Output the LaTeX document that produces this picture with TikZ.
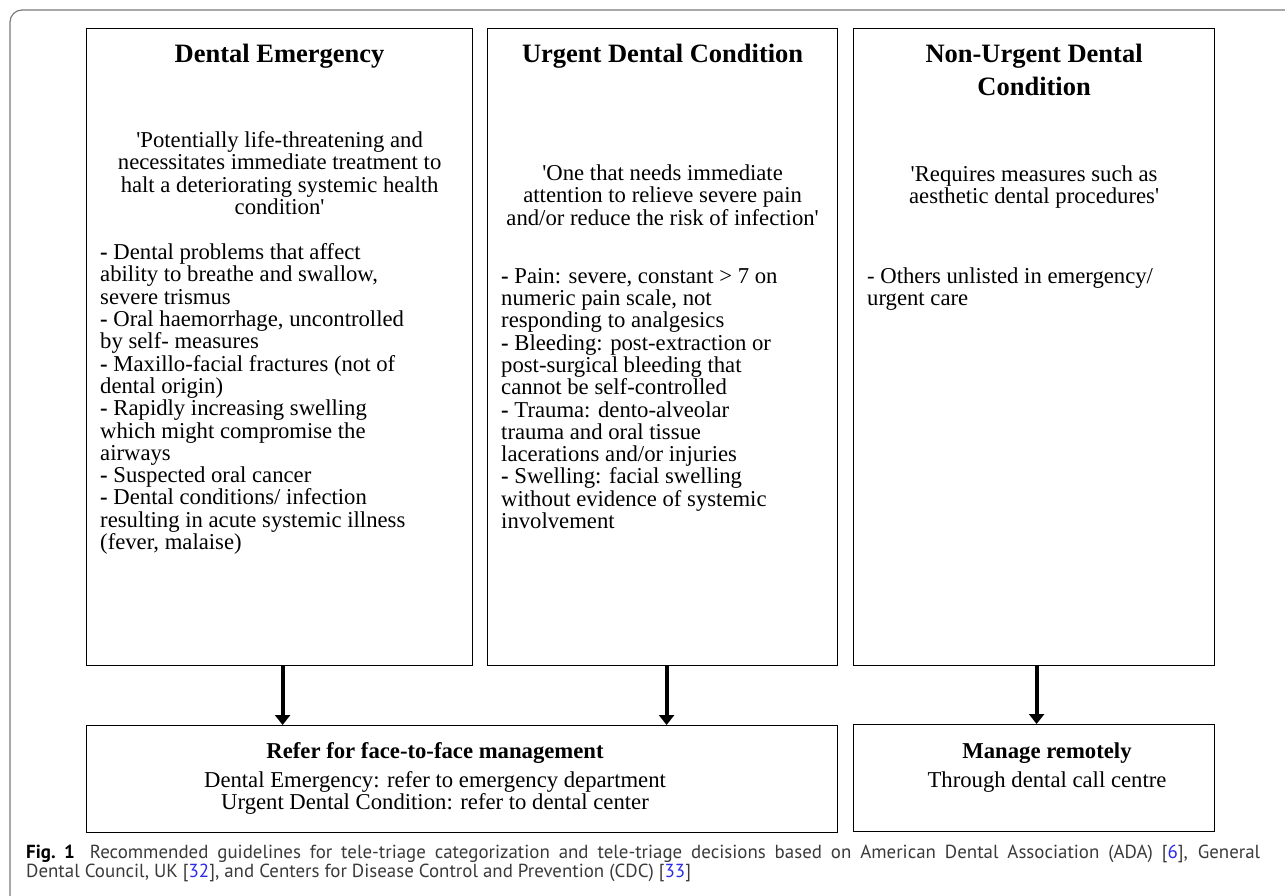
\documentclass[tikz,border=0pt]{standalone}
\usepackage{fontspec}
\setmainfont{Liberation Serif}
\newfontfamily\capfont{PT Sans}
\usetikzlibrary{arrows.meta,positioning}
\definecolor{frame}{HTML}{7A7A7A}
\definecolor{captext}{HTML}{3A3A3A}
\definecolor{reflink}{HTML}{2B2BE8}
\newcommand{\bdash}{\textbf{-}}
\newcommand{\sq}{\textquotesingle}
\newcommand{\capref}[1]{[\textcolor{reflink}{#1}]}

\begin{document}
\begin{tikzpicture}[
  x=1pt,y=-1pt,
  box/.style={draw,line width=1.2pt,inner sep=0pt,anchor=north west},
  title/.style={font=\fontsize{26.5}{33}\selectfont\bfseries,align=center,inner sep=0pt,anchor=north},
  quote/.style={font=\fontsize{22.7}{22.3}\selectfont,align=center,inner sep=0pt,anchor=north},
  items/.style={font=\fontsize{22.7}{22.3}\selectfont,align=left,inner sep=0pt,anchor=north west},
  subtitle/.style={font=\fontsize{22.7}{26}\selectfont\bfseries,align=center,inner sep=0pt,anchor=north},
  sub/.style={font=\fontsize{22.7}{21.5}\selectfont,align=center,inner sep=0pt,anchor=north},
  arrow/.style={-{Triangle[length=10pt,width=15pt]},line width=4pt}
]
  \useasboundingbox (0,0) rectangle (1285,896);
  \draw[frame,line width=1.2pt,rounded corners=12pt] (1285,10) -- (10,10) -- (10,896);

  \node[box,minimum width=386pt,minimum height=637pt] (emerg) at (86,28) {};
  \node[box,minimum width=350pt,minimum height=637pt] (urgent) at (487,28) {};
  \node[box,minimum width=361pt,minimum height=637pt] (nonurg) at (853,28) {};
  \node[box,minimum width=751pt,minimum height=107pt] (refer) at (86,725) {};
  \node[box,minimum width=361pt,minimum height=107pt] (remote) at (853,724) {};

  \node[title] (emergtitle) at (emerg.north |- 0,43.7) {Dental Emergency};
  \node[quote] (emergquote) at (emerg.north |- 0,131.4) {\sq Potentially life-threatening and\\necessitates immediate treatment to\\halt a deteriorating systemic health\\condition\sq};
  \node[items] (emerglist) at (100,243.5) {\bdash{} Dental problems that affect\\ability to breathe and swallow,\\severe trismus\\\bdash{} Oral haemorrhage, uncontrolled\\by self- measures\\\bdash{} Maxillo-facial fractures (not of\\dental origin)\\\bdash{} Rapidly increasing swelling\\which might compromise the\\airways\\\bdash{} Suspected oral cancer\\\bdash{} Dental conditions/ infection\\resulting in acute systemic illness\\(fever, malaise)};

  \node[title] (urgenttitle) at (urgent.north |- 0,43.7) {Urgent Dental Condition};
  \node[quote] (urgentquote) at (urgent.north |- 0,164.5) {\sq One that needs immediate\\attention to relieve severe pain\\and/or reduce the risk of infection\sq};
  \node[items] (urgentlist) at (501,268) {\bdash{} Pain: severe, constant > 7 on\\numeric pain scale, not\\responding to analgesics\\\bdash{} Bleeding: post-extraction or\\post-surgical bleeding that\\cannot be self-controlled\\\bdash{} Trauma: dento-alveolar\\trauma and oral tissue\\lacerations and/or injuries\\\bdash{} Swelling: facial swelling\\without evidence of systemic\\involvement};

  \node[title] (nonurgtitle) at (nonurg.north |- 0,43.7) {Non-Urgent Dental\\Condition};
  \node[quote] (nonurgquote) at (nonurg.north |- 0,165.5) {\sq Requires measures such as\\aesthetic dental procedures\sq};
  \node[items] (nonurglist) at (867,267.5) {- Others unlisted in emergency/\\urgent care};

  \node[subtitle] (refertitle) at (435,742.3) {Refer for face-to-face management};
  \node[sub] (refertext) at (435,771.5) {Dental Emergency: refer to emergency department\\Urgent Dental Condition: refer to dental center};
  \node[subtitle] (remotetitle) at (1047,742.3) {Manage remotely};
  \node[sub] (remotetext) at (1047,771.5) {Through dental call centre};

  \draw[arrow] ([xshift=3pt]emerg.south) -- ([xshift=3pt]emerg.south |- refer.north);
  \draw[arrow] ([xshift=4pt]urgent.south) -- ([xshift=4pt]urgent.south |- refer.north);
  \draw[arrow] ([xshift=2.5pt]nonurg.south) -- ([xshift=2.5pt]nonurg.south |- remote.north);

  \node[anchor=north west,inner sep=0pt,text width=1234pt,align=justify,text=captext,font=\capfont\fontsize{18.9}{19.5}\selectfont] (caption) at (26,844.5)
    {\textcolor{black}{\textbf{Fig.~1}}\hspace{0.8em}Recommended guidelines for tele-triage categorization and tele-triage decisions based on American Dental Association (ADA) \capref{6}, General\linebreak Dental Council, UK \capref{32}, and Centers for Disease Control and Prevention (CDC) \capref{33}};
\end{tikzpicture}
\end{document}
